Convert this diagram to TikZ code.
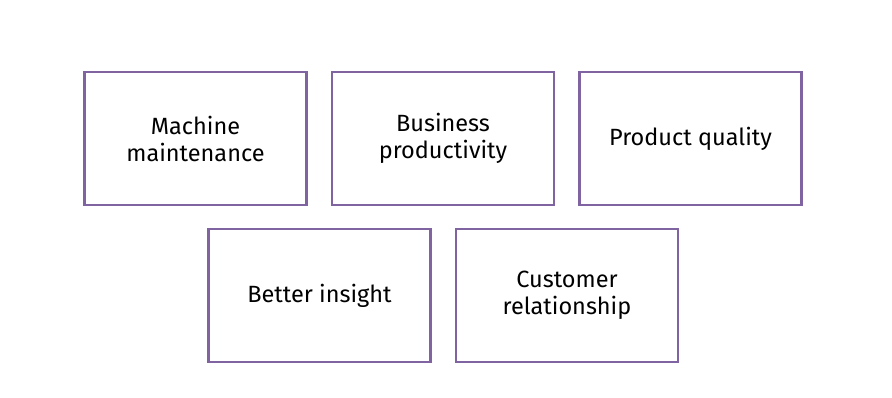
\documentclass[tikz,border=0pt]{standalone}
\usepackage{fontspec}
\setmainfont{Fira Sans}
\usepackage{xcolor}
\usepackage{tikz}
\usetikzlibrary{positioning}
\definecolor{boxpurple}{HTML}{8064A2}

\begin{document}
\begin{tikzpicture}[
  x=1pt,y=-1pt,
  line join=miter,
  benefit/.style={draw=boxpurple,line width=2.8pt,fill=white,
    minimum width=222pt,minimum height=133pt,inner sep=0pt,outer sep=0pt,
    align=center,font=\fontsize{23.5}{27}\selectfont}
]
\path[use as bounding box] (0,0) rectangle (892,397);

% top row
\node[benefit] (machine) at (195.5,138.5) {Machine\\maintenance};
\node[benefit,right=25.5pt of machine] (business) {Business\\productivity};
\node[benefit,right=25.5pt of business] (quality) {Product quality};

% bottom row
\node[benefit] (insight) at (319.5,295.5) {Better insight};
\node[benefit,right=25.5pt of insight] (customer) {Customer\\relationship};
\end{tikzpicture}
\end{document}
